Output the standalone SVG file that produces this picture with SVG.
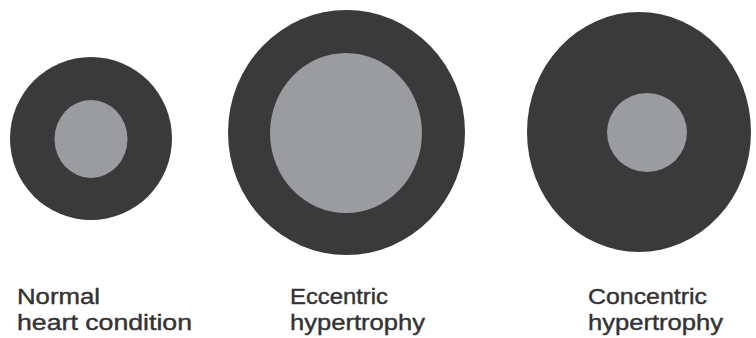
<svg xmlns="http://www.w3.org/2000/svg" width="756" height="338" viewBox="0 0 756 338">
<style>
.wall{fill:#3a3a3a}
.cav{fill:#9a9c9f}
.lbl{font-family:"Liberation Sans",Arial,sans-serif;font-size:22px;fill:#333333;stroke:#333333;stroke-width:0.4}
</style>
<rect width="756" height="338" fill="#ffffff"/>
<g id="normal">
<ellipse class="wall" cx="91" cy="138.5" rx="81" ry="81.5"/>
<ellipse class="cav" cx="91" cy="139" rx="36.5" ry="39"/>
<text class="lbl" x="17" y="304" textLength="83" lengthAdjust="spacingAndGlyphs">Normal</text>
<text class="lbl" x="17" y="330" textLength="175" lengthAdjust="spacingAndGlyphs">heart condition</text>
</g>
<g id="eccentric">
<ellipse class="wall" cx="346.5" cy="132.5" rx="118.5" ry="122.5"/>
<ellipse class="cav" cx="346" cy="133" rx="76" ry="80"/>
<text class="lbl" x="290" y="304" textLength="98" lengthAdjust="spacingAndGlyphs">Eccentric</text>
<text class="lbl" x="290" y="330" textLength="135" lengthAdjust="spacingAndGlyphs">hypertrophy</text>
</g>
<g id="concentric">
<ellipse class="wall" cx="639" cy="132" rx="112" ry="120"/>
<ellipse class="cav" cx="647" cy="132.5" rx="40" ry="39.5"/>
<text class="lbl" x="588" y="304" textLength="119" lengthAdjust="spacingAndGlyphs">Concentric</text>
<text class="lbl" x="588" y="330" textLength="135" lengthAdjust="spacingAndGlyphs">hypertrophy</text>
</g>
<g id="connectors"/>
</svg>
